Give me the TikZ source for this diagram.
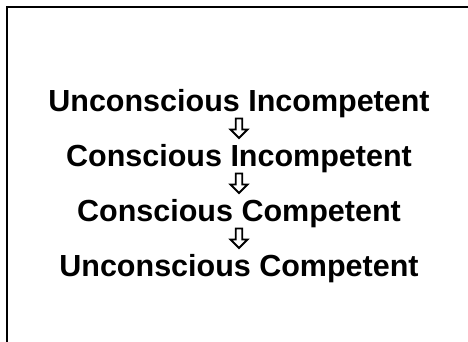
\documentclass[tikz,border=0pt]{standalone}
\usepackage{fontspec}
\setmainfont{Liberation Sans}
\usetikzlibrary{calc}
\begin{document}
\begin{tikzpicture}[x=1pt,y=-1pt,
  stage/.style={font=\bfseries\fontsize{30.5}{30.5}\selectfont, inner sep=0pt, anchor=base},
  hollowarrow/.style={draw=black, line width=1.8pt, fill=white, line join=miter}]
% canvas
\useasboundingbox (0,0) rectangle (468,342);
% frame (extends past the right and bottom edges)
\draw[line width=2pt] (7,360) -- (7,7) -- (490,7);
% stages
\node[stage] (s1) at (239,111) {Unconscious Incompetent};
\node[stage] (s2) at (239,166) {Conscious Incompetent};
\node[stage] (s3) at (239,221) {Conscious Competent};
\node[stage] (s4) at (239,276) {Unconscious Competent};
% hollow down arrows between stages
\foreach \a/\b in {s1/s2, s2/s3, s3/s4}{
  \coordinate (m) at ($(\a.base)!0.5!(\b.base)+(0,-10)$);
  \draw[hollowarrow] ($(m)+(-3.2,-10)$) -- ($(m)+(3.2,-10)$) -- ($(m)+(3.2,1)$)
    -- ($(m)+(8.5,1)$) -- ($(m)+(0,9.5)$) -- ($(m)+(-8.5,1)$) -- ($(m)+(-3.2,1)$) -- cycle;
}
\end{tikzpicture}
\end{document}
